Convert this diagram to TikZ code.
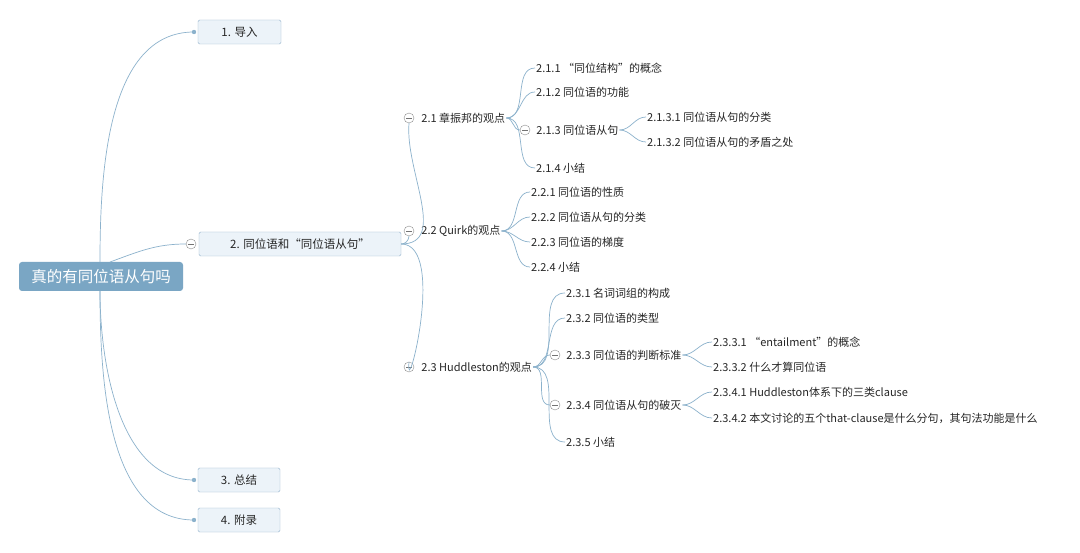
\documentclass[tikz,border=0pt]{standalone}
\usepackage{fontspec}
\setmainfont{Noto Sans CJK SC}
\usetikzlibrary{positioning}
\definecolor{rootblue}{RGB}{122,166,196}
\definecolor{linkblue}{RGB}{140,178,204}
\definecolor{boxfill}{RGB}{236,243,249}
\definecolor{boxline}{RGB}{150,180,205}
\begin{document}
\begin{tikzpicture}[x=1pt, y=-1pt,
    rootbox/.style={fill=rootblue, rounded corners=3pt, text=white, font=\fontsize{15.5}{17}\selectfont, minimum width=164pt, minimum height=29pt, inner sep=0pt},
    topbox/.style={draw=boxline, fill=boxfill, rounded corners=1.5pt, font=\fontsize{11.5}{13}\selectfont, minimum height=24pt, inner sep=0pt, text=black!85},
    leaf/.style={anchor=west, font=\fontsize{11}{12}\selectfont, inner sep=1pt, text=black!85},
    fold/.style={draw=black!45, fill=white, circle, minimum size=10pt, inner sep=0pt, path picture={\draw[black!55] ([xshift=-3pt]path picture bounding box.center) -- ([xshift=3pt]path picture bounding box.center);}},
    link/.style={draw=linkblue, line width=0.7pt}]
  \fill[white!96!blue!2] (0,0) rectangle (1080,553);
  \useasboundingbox (0,0) rectangle (1080,553);

  % main topic and first level
  \node[rootbox] (root) at (101,276.5) {真的有同位语从句吗};
  \node[topbox, minimum width=83pt] (t1) at (239.5,32) {1. 导入};
  \node[topbox, minimum width=202pt] (t2) at (300,244) {2. 同位语和“同位语从句”};
  \node[topbox, minimum width=82pt] (t3) at (239,480) {3. 总结};
  \node[topbox, minimum width=82pt] (t4) at (239,520) {4. 附录};
  \node[fold] (f2) at (191,244) {};
  \fill[linkblue] (194,32) circle (2.2pt) coordinate (d1);
  \fill[linkblue] (194,480) circle (2.2pt) coordinate (d3);
  \fill[linkblue] (194,520) circle (2.2pt) coordinate (d4);

  % second level
  \node[fold] (f21) at (409,118) {};
  \node[fold] (f22) at (409,231) {};
  \node[fold] (f23) at (409,367) {};
  \node[leaf, right=6pt of f21] (n21) {2.1 章振邦的观点};
  \node[leaf, right=6pt of f22] (n22) {2.2 Quirk的观点};
  \node[leaf, right=6pt of f23] (n23) {2.3 Huddleston的观点};

  % third level
  \node[leaf] (n211) at (535,68) {2.1.1 “同位结构”的概念};
  \node[leaf] (n212) at (535,92) {2.1.2 同位语的功能};
  \node[fold] (f213) at (525,130) {};
  \node[leaf, right=5pt of f213] (n213) {2.1.3 同位语从句};
  \node[leaf] (n214) at (535,168) {2.1.4 小结};
  \node[leaf] (n2131) at (646,117) {2.1.3.1 同位语从句的分类};
  \node[leaf] (n2132) at (646,142) {2.1.3.2 同位语从句的矛盾之处};

  \node[leaf] (n221) at (530,192) {2.2.1 同位语的性质};
  \node[leaf] (n222) at (530,217) {2.2.2 同位语从句的分类};
  \node[leaf] (n223) at (530,242) {2.2.3 同位语的梯度};
  \node[leaf] (n224) at (530,267) {2.2.4 小结};

  \node[leaf] (n231) at (565,293) {2.3.1 名词词组的构成};
  \node[leaf] (n232) at (565,318) {2.3.2 同位语的类型};
  \node[fold] (f233) at (555,355) {};
  \node[leaf, right=5pt of f233] (n233) {2.3.3 同位语的判断标准};
  \node[fold] (f234) at (555,405) {};
  \node[leaf, right=5pt of f234] (n234) {2.3.4 同位语从句的破灭};
  \node[leaf] (n235) at (565,442) {2.3.5 小结};
  \node[leaf] (n2331) at (712,342) {2.3.3.1 “entailment”的概念};
  \node[leaf] (n2332) at (712,367) {2.3.3.2 什么才算同位语};
  \node[leaf] (n2341) at (712,392) {2.3.4.1 Huddleston体系下的三类clause};
  \node[leaf] (n2342) at (712,418) {2.3.4.2 本文讨论的五个that-clause是什么分句，其句法功能是什么};

  % connectors from the main topic
  \draw[link] (100,262) to[out=90, in=180, looseness=0.9] (d1);
  \draw[link] (110,262) to[out=20, in=180] (f2.west);
  \draw[link] (100,291) to[out=-90, in=180, looseness=0.9] (d3);
  \draw[link] (100,291) to[out=-90, in=180, looseness=0.9] (d4);

  % connectors of the branches
  \foreach \p/\c in {t2.east/f21.south, t2.east/f22.south, t2.east/f23.north}
    \draw[link] (\p) to[out=0, in=-95] (\c);
  \foreach \c in {n211, n212, f213, n214}
    \draw[link] (n21.east) to[out=0, in=180] (\c.west);
  \foreach \c in {n221, n222, n223, n224}
    \draw[link] (n22.east) to[out=0, in=180] (\c.west);
  \foreach \c in {n231, n232, f233, f234, n235}
    \draw[link] (n23.east) to[out=0, in=180] (\c.west);
  \foreach \p/\c in {n213/n2131, n213/n2132, n233/n2331, n233/n2332, n234/n2341, n234/n2342}
    \draw[link] (\p.east) to[out=0, in=180] (\c.west);
\end{tikzpicture}
\end{document}
